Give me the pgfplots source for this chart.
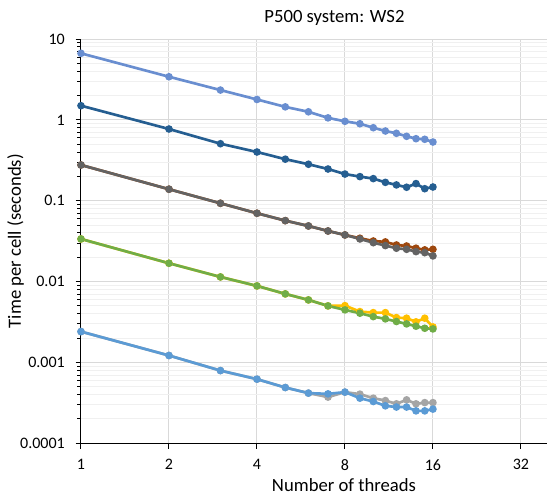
\documentclass[border=0pt]{standalone}
\usepackage{pgfplots}
\pgfplotsset{compat=1.18}
\usepackage{pgfplotstable}
\usepackage{fontspec}
\setmainfont{Carlito}
\definecolor{cA}{HTML}{698ED0}
\definecolor{cB}{HTML}{255E91}
\definecolor{cC}{HTML}{9E480E}
\definecolor{cD}{HTML}{636363}
\definecolor{cE}{HTML}{FFC000}
\definecolor{cF}{HTML}{70AD47}
\definecolor{cG}{HTML}{A5A5A5}
\definecolor{cH}{HTML}{5B9BD5}
\definecolor{gmaj}{HTML}{D9D9D9}
\definecolor{gmin}{HTML}{F0F0F0}
\pgfplotstableread{
x a b c d e f g h
1 6.66 1.50 0.277 0.277 0.0337 0.0337 0.00241 0.00241
2 3.42 0.772 0.139 0.139 0.01688 0.01688 0.00122 0.00122
3 2.34 0.508 0.0931 0.0931 0.01143 0.01143 0.000794 0.000794
4 1.79 0.401 0.0701 0.0701 0.00885 0.00885 0.000622 0.000622
5 1.45 0.327 0.0568 0.0568 0.00705 0.00705 0.000490 0.000490
6 1.26 0.283 0.0488 0.0488 0.00594 0.00594 0.000418 0.000418
7 1.06 0.247 0.0423 0.0423 0.00501 0.00501 0.000409 0.000373
8 0.961 0.214 0.0378 0.0378 0.00505 0.00447 0.000430 0.000430
9 0.897 0.199 0.0344 0.0337 0.00426 0.00407 0.000362 0.000406
10 0.801 0.188 0.0318 0.0303 0.00414 0.00369 0.000329 0.000362
11 0.729 0.169 0.0310 0.0279 0.00414 0.00346 0.000291 0.000338
12 0.683 0.157 0.0284 0.0259 0.00359 0.00321 0.000281 0.000308
13 0.627 0.147 0.0276 0.0251 0.00353 0.00300 0.000281 0.000345
14 0.586 0.163 0.0259 0.0235 0.00318 0.00281 0.000252 0.000308
15 0.576 0.141 0.0247 0.0228 0.00353 0.00265 0.000252 0.000319
16 0.533 0.148 0.0251 0.0208 0.00275 0.00260 0.000265 0.000319
}\data
\begin{document}
\begin{tikzpicture}
\path[use as bounding box] (-60.75pt,-39.5pt) rectangle (349.5pt,332.5pt);
\begin{axis}[
  at={(0,0)}, anchor=south west,
  scale only axis, width=349.5pt, height=303.2pt,
  xmode=log, log basis x=2, ymode=log,
  xmin=1, xmax=39.3, ymin=1e-4, ymax=10,
  xtick={1,2,4,8,16,32}, xticklabels={1,2,4,8,16,32},
  ytick={1e-4,1e-3,1e-2,1e-1,1,10},
  yticklabels={0.0001,0.001,0.01,0.1,1,10},
  minor xtick={},
  minor ytick={2e-4,3e-4,4e-4,5e-4,6e-4,7e-4,8e-4,9e-4,
    2e-3,3e-3,4e-3,5e-3,6e-3,7e-3,8e-3,9e-3,
    2e-2,3e-2,4e-2,5e-2,6e-2,7e-2,8e-2,9e-2,
    0.2,0.3,0.4,0.5,0.6,0.7,0.8,0.9,2,3,4,5,6,7,8,9},
  axis x line*=bottom, axis y line*=left,
  axis line style={black, line width=0.75pt, -},
  tick align=outside,
  major tick length=4pt, minor tick length=3pt,
  tick style={black, line width=0.75pt},
  xmajorgrids=true, ymajorgrids=true, yminorgrids=true,
  major grid style={gmaj, line width=0.75pt},
  minor grid style={gmin, line width=0.75pt},
  ticklabel style={font=\fontsize{12}{14}\selectfont, text=black},
  yticklabel style={anchor=east, inner sep=0pt, xshift=-8pt},
  xticklabel style={anchor=north, inner sep=0pt, yshift=-8pt},
  clip=false,
  every axis plot/.append style={line width=2pt, mark=*, mark size=1.8pt},
]
\addplot[cG, mark options={fill=cG, draw=cG}] table[x=x, y=h] {\data};
\addplot[cE, mark options={fill=cE, draw=cE}] table[x=x, y=e] {\data};
\addplot[cH, mark options={fill=cH, draw=cH}] table[x=x, y=g] {\data};
\addplot[cF, mark options={fill=cF, draw=cF}] table[x=x, y=f] {\data};
\addplot[cC, mark options={fill=cC, draw=cC}] table[x=x, y=c] {\data};
\addplot[cD, mark options={fill=cD, draw=cD}] table[x=x, y=d] {\data};
\addplot[cB, mark options={fill=cB, draw=cB}] table[x=x, y=b] {\data};
\addplot[cA, mark options={fill=cA, draw=cA}] table[x=x, y=a] {\data};
\end{axis}
\node[anchor=base, font=\fontsize{14}{16}\selectfont] at (190.1pt,315.45pt) {P500 system: WS2};
\node[anchor=base, font=\fontsize{14}{16}\selectfont] at (197.25pt,-36.3pt) {Number of threads};
\node[anchor=base, rotate=90, font=\fontsize{14}{16}\selectfont] at (-45pt,151.6pt) {Time per cell (seconds)};
\end{tikzpicture}
\end{document}
